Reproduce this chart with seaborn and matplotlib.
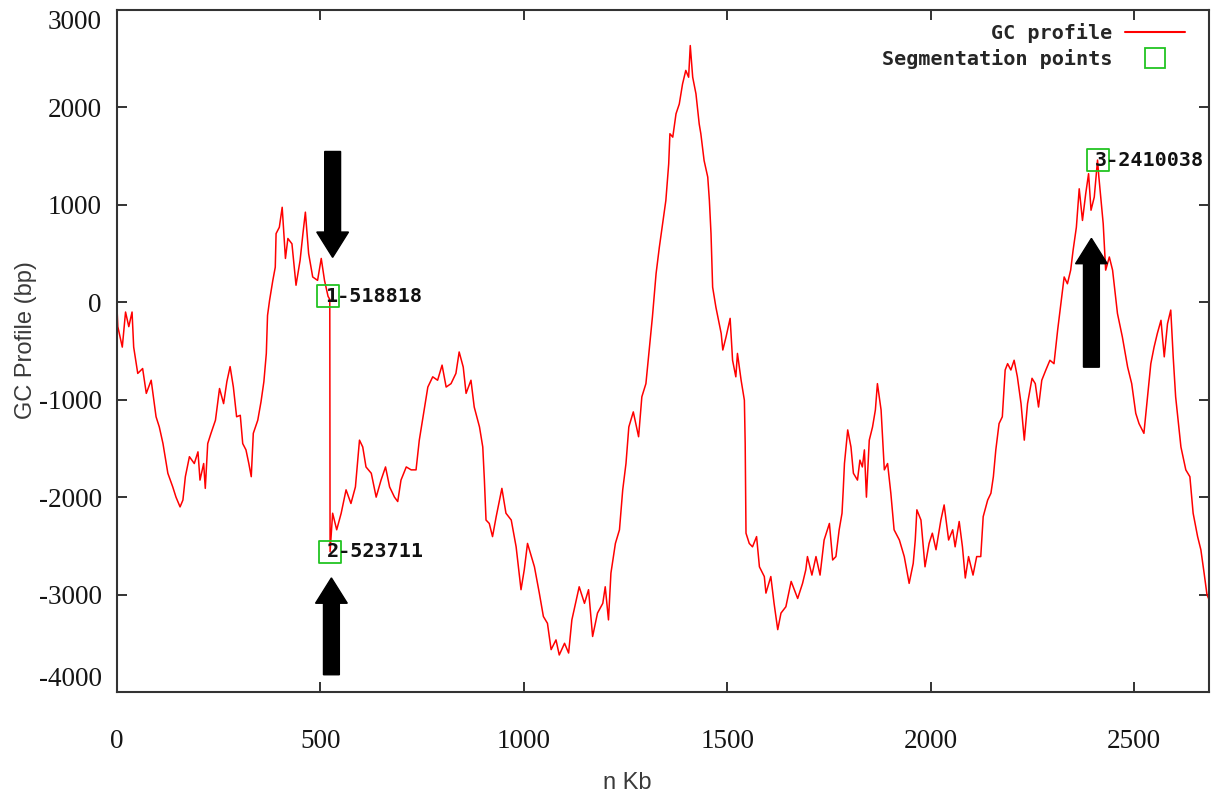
import matplotlib
matplotlib.use("Agg")
import matplotlib.pyplot as plt
from matplotlib.lines import Line2D
import seaborn as sns
import numpy as np
import pandas as pd

# GC profile: position (Kb) and cumulative GC skew (bp)
gc_kb = [0, 2, 13, 21, 29, 37, 41, 51, 63, 72, 84, 96, 104, 113, 125, 137, 145, 155, 162, 168,
         178, 190, 199, 204, 213, 217, 223, 231, 242, 252, 262, 270, 278, 286, 294, 303, 309, 317, 324, 330,
         335, 346, 354, 361, 367, 370, 375, 383, 389, 391, 399, 406, 414, 420, 430, 440, 450, 457, 463, 471,
         481, 493, 502, 510, 518.818, 523.0, 523.711, 530, 540, 551, 563, 575, 586, 596, 604, 612, 625, 637,
         649, 660, 670, 682, 690, 698, 711, 723, 735, 743, 755, 764, 776, 788, 799, 809, 821, 833, 841, 851,
         858, 870, 878, 891, 899, 903, 907, 915, 923, 932, 946, 956, 969, 981, 993, 1001, 1009, 1026, 1038, 1048,
         1058, 1067, 1079, 1087, 1100, 1110, 1118, 1127, 1136, 1149, 1159, 1169, 1181, 1194, 1200, 1208, 1214, 1225, 1235, 1243,
         1251, 1258, 1269, 1282, 1290, 1300, 1308, 1316, 1325, 1333, 1341, 1349, 1356, 1359, 1366, 1374, 1382, 1390, 1398, 1405,
         1409, 1415, 1423, 1431, 1435, 1443, 1452, 1456, 1460, 1464, 1472, 1485, 1489, 1497, 1507, 1513, 1521, 1525, 1534, 1542,
         1544, 1546, 1554, 1562, 1572, 1579, 1591, 1595, 1607, 1615, 1624, 1632, 1644, 1657, 1673, 1685, 1693, 1697, 1708, 1718,
         1728, 1738, 1751, 1759, 1767, 1775, 1782, 1785, 1788, 1796, 1804, 1810, 1820, 1826, 1832, 1837, 1842, 1849, 1857, 1864,
         1869, 1878, 1886, 1894, 1902, 1910, 1923, 1935, 1947, 1957, 1962, 1966, 1976, 1986, 1996, 2004, 2013, 2025, 2033, 2044,
         2054, 2060, 2070, 2078, 2085, 2093, 2104, 2113, 2123, 2129, 2140, 2148, 2154, 2160, 2168, 2176, 2183, 2189, 2197, 2205,
         2213, 2222, 2230, 2238, 2249, 2257, 2265, 2273, 2283, 2293, 2303, 2312, 2320, 2328, 2336, 2344, 2350, 2358, 2365, 2373,
         2381, 2388, 2394, 2402, 2407, 2410.038, 2413, 2418, 2424, 2430, 2439, 2447, 2459, 2471, 2484, 2494, 2504, 2512, 2524, 2533,
         2541, 2549, 2557, 2566, 2574, 2582, 2590, 2596, 2602, 2615, 2627, 2637, 2645, 2656, 2664, 2672, 2679, 2684]
gc_bp = [-60, -250, -460, -100, -250, -100, -460, -730, -680, -935, -800, -1175, -1280, -1450, -1755, -1895, -2000, -2100, -2030, -1790,
         -1585, -1655, -1535, -1825, -1655, -1910, -1450, -1345, -1210, -885, -1040, -815, -660, -870, -1175, -1160, -1450, -1515, -1655, -1790,
         -1345, -1210, -1020, -815, -525, -135, 20, 225, 360, 705, 770, 975, 450, 655, 600, 175, 430, 705, 925, 500,
         260, 225, 450, 225, 60, 30, -2560, -2165, -2335, -2165, -1925, -2065, -1895, -1415, -1485, -1690, -1755, -2000,
         -1825, -1690, -1895, -2000, -2045, -1825, -1690, -1720, -1720, -1415, -1105, -870, -765, -800, -645, -870, -835, -730, -510, -665,
         -935, -800, -1075, -1280, -1485, -1825, -2235, -2270, -2405, -2200, -1910, -2165, -2235, -2510, -2950, -2745, -2475, -2715, -2985, -3225,
         -3295, -3565, -3465, -3620, -3500, -3600, -3260, -3090, -2920, -3090, -2950, -3430, -3190, -3090, -2920, -3260, -2780, -2475, -2335, -1925,
         -1655, -1280, -1125, -1380, -970, -835, -490, -150, 295, 565, 805, 1045, 1420, 1730, 1695, 1935, 2035, 2240, 2380, 2310,
         2635, 2310, 2140, 1830, 1730, 1455, 1285, 1045, 705, 155, -50, -320, -490, -355, -165, -595, -765, -525, -800, -1005,
         -1450, -2370, -2475, -2510, -2405, -2715, -2815, -2985, -2815, -3090, -3360, -3190, -3125, -2865, -3040, -2885, -2745, -2610, -2800, -2610,
         -2800, -2440, -2270, -2645, -2610, -2335, -2165, -1925, -1655, -1310, -1485, -1755, -1825, -1620, -1690, -1515, -2000, -1415, -1280, -1105,
         -835, -1105, -1720, -1655, -1960, -2335, -2440, -2610, -2885, -2680, -2440, -2130, -2235, -2715, -2475, -2370, -2540, -2235, -2080, -2440,
         -2335, -2510, -2250, -2510, -2830, -2610, -2800, -2610, -2610, -2200, -2030, -1960, -1790, -1515, -1245, -1175, -695, -630, -695, -595,
         -765, -1040, -1415, -1040, -780, -835, -1075, -800, -695, -595, -630, -285, -15, 260, 190, 330, 535, 770, 1165, 840,
         1115, 1320, 945, 1080, 1320, 1460, 1300, 1080, 805, 330, 465, 330, -115, -355, -665, -835, -1140, -1245, -1345, -970,
         -630, -460, -320, -185, -560, -220, -80, -560, -970, -1485, -1720, -1790, -2165, -2405, -2540, -2780, -3000, -3050]

# segmentation points (Kb, bp) and their labels
seg_kb = [518.818, 523.711, 2410.038]
seg_bp = [60, -2560, 1460]
seg_labels = ["1-518818", "2-523711", "3-2410038"]

# block arrows: x (Kb), tail (bp), tip (bp)
arrow_x = [530, 527, 2395]
arrow_tail = [1548, -3823, -666]
arrow_tip = [461, -2829, 656]

x_ticks = [0, 500, 1000, 1500, 2000, 2500]
y_ticks = [-4000, -3000, -2000, -1000, 0, 1000, 2000, 3000]

profile = pd.DataFrame({"kb": gc_kb, "gc": gc_bp})
segs = pd.DataFrame({"kb": seg_kb, "gc": seg_bp})

sns.set_style("ticks")
mono = {"family": "DejaVu Sans Mono", "weight": "bold", "size": 14.5}
green = "#22c422"

fig = plt.figure(figsize=(12.21, 8.01), dpi=100)
ax = fig.add_axes([117 / 1221, 1 - 692 / 801, 1092 / 1221, 682 / 801])

sns.lineplot(data=profile, x="kb", y="gc", color="#ff0000", lw=1.1,
             sort=False, estimator=None, ax=ax)
sns.scatterplot(data=segs, x="kb", y="gc", marker="s", s=250,
                facecolor="none", edgecolor=green, linewidth=1.3, ax=ax, zorder=3)

for lab, kb, bp in zip(seg_labels, seg_kb, seg_bp):
    ax.annotate(lab, xy=(kb, bp), xytext=(-2, 0), textcoords="offset points",
                ha="left", va="center", color="#111111", zorder=4, **mono)

for x, tail, tip in zip(arrow_x, arrow_tail, arrow_tip):
    ax.arrow(x, tail, 0, tip - tail, width=39, head_width=78, head_length=260,
             length_includes_head=True, color="black", zorder=5)

ax.set_xlim(0, 2684)
ax.set_ylim(-4000, 3000)
ax.set_xticks(x_ticks)
ax.set_yticks(y_ticks)
ax.set_xticklabels([str(t) for t in x_ticks])
ax.set_yticklabels([str(t) for t in y_ticks])

for lbl in ax.get_xticklabels() + ax.get_yticklabels():
    lbl.set_fontfamily("Liberation Serif")
    lbl.set_fontsize(19.5)
    lbl.set_color("#151515")
ylabs = ax.get_yticklabels()
ylabs[-1].set_va("top")
ylabs[0].set_va("bottom")

ax.tick_params(axis="both", direction="in", length=7, width=1.4, color="#333333",
               top=True, right=True)
ax.tick_params(axis="x", pad=27)
ax.tick_params(axis="y", pad=11)

for sp in ax.spines.values():
    sp.set_color("#333333")
    sp.set_linewidth(1.5)

ax.set_xlabel("n Kb", fontfamily="Liberation Sans", fontsize=17, color="#3a3a3a")
ax.set_ylabel("GC Profile (bp)", fontfamily="Liberation Sans", fontsize=17, color="#3a3a3a")
ax.xaxis.set_label_coords(0.467, -0.117)
ax.yaxis.set_label_coords(-0.073, 0.516)

handles = [Line2D([], [], color="#ff0000", lw=1.5),
           Line2D([], [], color=green, marker="s", markersize=15, markerfacecolor="none",
                  markeredgewidth=1.3, linestyle="none")]
ax.legend(handles, ["GC profile", "Segmentation points"], loc="upper right",
          bbox_to_anchor=(0.9927, 1.0044), markerfirst=False, frameon=False, prop=mono,
          handlelength=3.0, handletextpad=0.6, labelspacing=0.3, borderaxespad=0.4)

fig.savefig("out.png", dpi=100)
